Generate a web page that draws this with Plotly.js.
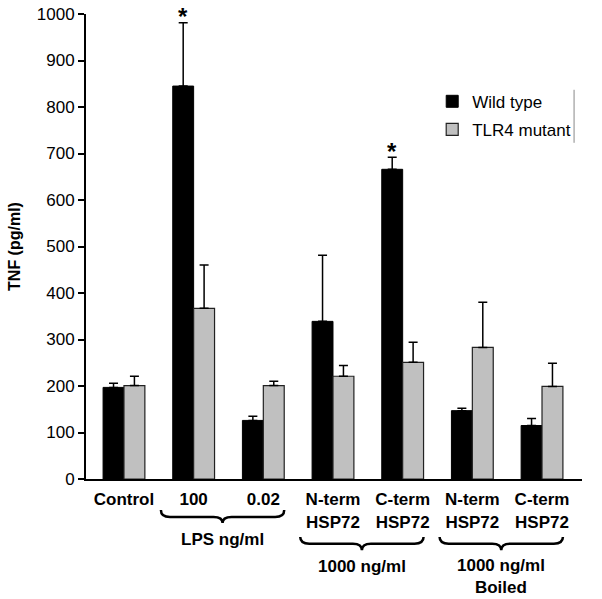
<!DOCTYPE html>
<html>
<head>
<meta charset="utf-8">
<script src="https://cdn.plot.ly/plotly-3.0.1.min.js"></script>
<style>html,body{margin:0;padding:0;background:#fff;}#chart{width:602px;height:599px;}</style>
</head>
<body>
<div id="chart"></div>
<script>
// ---- data ----
const categories = ["Control", "100", "0.02", "N-term<br>HSP72", "C-term<br>HSP72", "N-term<br>HSP72", "C-term<br>HSP72"];
const wildType    = [197, 845, 126, 339, 666, 147, 115];
const wildTypeErr = [9, 136, 9, 142, 26, 5, 15];
const tlr4        = [201, 367, 201, 221, 251, 283, 199];
const tlr4Err     = [20, 93, 9, 23, 43, 97, 50];
const seriesNames = ["Wild type", "TLR4 mutant"];
const significant = [1, 4]; // category indices with * over wild type
const groupLabels = ["LPS ng/ml", "1000 ng/ml", "1000 ng/ml<br>Boiled"];
const groupSpans  = [[1, 2], [3, 4], [5, 6]];
const yTicks = [0, 100, 200, 300, 400, 500, 600, 700, 800, 900, 1000];

const FONT = "Liberation Sans, Arial, Helvetica, sans-serif";
const idx = categories.map((_, i) => i);

const traces = [
  {
    type: "bar", name: seriesNames[0], x: idx, y: wildType, legendgroup: "a",
    marker: {color: "#000000", line: {color: "#000000", width: 1}},
    error_y: {type: "data", symmetric: false, array: wildTypeErr, arrayminus: wildType.map(() => 0),
              color: "#000", thickness: 1.5, width: 4.5}
  },
  {
    type: "bar", name: seriesNames[1], x: idx, y: tlr4, legendgroup: "b",
    marker: {color: "#c0c0c0", line: {color: "#222222", width: 1.2}},
    error_y: {type: "data", symmetric: false, array: tlr4Err, arrayminus: tlr4.map(() => 0),
              color: "#000", thickness: 1.5, width: 4.5}
  }
];

const annotations = [];
const shapes = [];
significant.forEach(i => {
  annotations.push({
    x: i - 0.15, y: wildType[i] + wildTypeErr[i], xref: "x", yref: "y",
    text: "<b>*</b>", showarrow: false, yanchor: "middle", yshift: 6,
    font: {family: FONT, size: 24, color: "#000"}
  });
});

// braces
const braceGeom = [
  {top: -0.0667, mid: -0.0817, tip: -0.0946, label: -0.131},
  {top: -0.1247, mid: -0.1390, tip: -0.1530, label: -0.189},
  {top: -0.1247, mid: -0.1390, tip: -0.1530, label: -0.210}
];
groupSpans.forEach((s, k) => {
  const g = braceGeom[k];
  const x0 = s[0] - 0.47, x1 = s[1] + 0.30, xc = (x0 + x1) / 2, dx = 0.13;
  const path = `M${x0},${g.top} Q${x0},${g.mid} ${x0 + dx},${g.mid} L${xc - dx},${g.mid} Q${xc},${g.mid} ${xc},${g.tip} ` +
               `Q${xc},${g.mid} ${xc + dx},${g.mid} L${x1 - dx},${g.mid} Q${x1},${g.mid} ${x1},${g.top}`;
  shapes.push({type: "path", xref: "x", yref: "paper", path: path, line: {color: "#000", width: 2.5}});
  annotations.push({
    x: xc, y: g.label, xref: "x", yref: "paper", text: "<b>" + groupLabels[k] + "</b>",
    showarrow: false, yanchor: "middle", font: {family: FONT, size: 17, color: "#000"}
  });
});

// legend right border line
shapes.push({type: "line", xref: "paper", yref: "paper", x0: 0.984, x1: 0.984, y0: 0.723, y1: 0.837,
             line: {color: "#888", width: 1}});

const layout = {
  width: 602, height: 599,
  margin: {l: 86, r: 20, t: 14, b: 120},
  paper_bgcolor: "#fff", plot_bgcolor: "#fff",
  barmode: "group", bargap: 0.4, bargroupgap: 0,
  font: {family: FONT, size: 17, color: "#000"},
  showlegend: true,
  legend: {x: 0.698, y: 0.85, xanchor: "left", yanchor: "top", bgcolor: "rgba(0,0,0,0)",
           traceorder: "grouped", tracegroupgap: 3,
           font: {family: FONT, size: 17, color: "#000"}},
  xaxis: {
    range: [-0.545, 6.574], showline: true, linecolor: "#000", linewidth: 2,
    ticks: "", ticklabelstandoff: 4, tickmode: "array", tickvals: idx, ticktext: categories.map(c => "<b>" + c + "</b>"),
    tickfont: {family: FONT, size: 17, color: "#000"}, showgrid: false, zeroline: false, fixedrange: true
  },
  yaxis: {
    range: [0, 1000], showline: true, linecolor: "#000", linewidth: 2,
    ticks: "outside", ticklen: 6, tickwidth: 2, tickcolor: "#000",
    tickmode: "array", tickvals: yTicks, ticktext: yTicks.map(String),
    tickfont: {family: FONT, size: 17, color: "#000"}, showgrid: false, zeroline: false,
    title: {text: "<b>TNF (pg/ml)</b>", font: {family: FONT, size: 16, color: "#000"}, standoff: 12}
  },
  shapes: shapes,
  annotations: annotations
};

Plotly.newPlot("chart", traces, layout, {displayModeBar: false, staticPlot: true});
</script>
</body>
</html>
